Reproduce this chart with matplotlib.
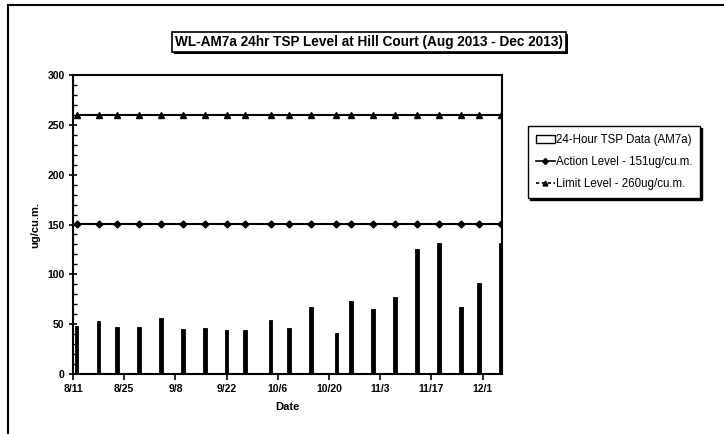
import datetime as dt

import matplotlib
matplotlib.use('Agg')
import matplotlib.pyplot as plt
import matplotlib.dates as mdates
from matplotlib.lines import Line2D
from matplotlib.patches import Patch
from matplotlib import patheffects as pe

plt.rcParams['font.family'] = ['Liberation Sans', 'DejaVu Sans']

# sampling dates (2013) and 24-hour TSP readings
sample_dates = ['8/12', '8/18', '8/23', '8/29', '9/4', '9/10', '9/16', '9/22',
                '9/27', '10/4', '10/9', '10/15', '10/22', '10/26', '11/1',
                '11/7', '11/13', '11/19', '11/25', '11/30', '12/6']
tsp = [48, 53, 47, 47, 56, 45, 46, 44, 44, 54, 46,
       67, 41, 73, 65, 77, 125, 131, 67, 91, 131]
action_level = 151
limit_level = 260

tick_dates = ['8/11', '8/25', '9/8', '9/22', '10/6', '10/20', '11/3', '11/17', '12/1']
y_ticks = [0, 50, 100, 150, 200, 250, 300]

title = 'WL-AM7a 24hr TSP Level at Hill Court (Aug 2013 - Dec 2013)'
labels = ['24-Hour TSP Data (AM7a)', 'Action Level - 151ug/cu.m.',
          'Limit Level - 260ug/cu.m.']


def to_date(s):
    m, d = s.split('/')
    return dt.datetime(2013, int(m), int(d))


x = [to_date(s) for s in sample_dates]
xt = [to_date(s) for s in tick_dates]

fig = plt.figure(figsize=(7.24, 4.34), dpi=100)
ax = fig.add_axes([73 / 724, 1 - 374 / 434, (502 - 73) / 724, (374 - 75) / 434])

ax.bar(x, tsp, width=1.0, color='black', edgecolor='black', linewidth=0.6, zorder=2)
ax.plot(x, [action_level] * len(x), color='black', lw=1.5, marker='D',
        markersize=3.5, zorder=3)
ax.plot(x, [limit_level] * len(x), color='black', lw=1.5, marker='^',
        markersize=4.2, zorder=3)

ax.set_ylim(0, 300)
ax.set_yticks(y_ticks)
ax.yaxis.set_minor_locator(plt.MultipleLocator(10))
ax.set_xlim(mdates.date2num(dt.datetime(2013, 8, 11)),
            mdates.date2num(dt.datetime(2013, 12, 6, 7)))
ax.set_xticks(xt)
ax.set_xticklabels(tick_dates)

for s in ax.spines.values():
    s.set_linewidth(1.5)
ax.tick_params(axis='both', which='major', labelsize=7.5, width=1.2, length=4,
               direction='out', pad=3)
ax.tick_params(axis='y', which='major', direction='inout', length=6)
ax.tick_params(axis='y', which='minor', direction='in', length=3, width=1)
for lab in ax.get_xticklabels() + ax.get_yticklabels():
    lab.set_fontweight('bold')

ax.set_ylabel('ug/cu.m.', fontsize=8, fontweight='bold', labelpad=5)
ax.set_xlabel('Date', fontsize=8, fontweight='bold', labelpad=6)

t = fig.text(369 / 724, 1 - 42 / 434, title, ha='center', va='center',
             fontsize=9.8, fontweight='bold',
             bbox=dict(boxstyle='square,pad=0.2', facecolor='white',
                       edgecolor='black', linewidth=1.2))
t.get_bbox_patch().set_path_effects([
    pe.SimplePatchShadow(offset=(1.5, -1.5), shadow_rgbFace='black', alpha=1),
    pe.Normal()])

handles = [
    Patch(facecolor='white', edgecolor='black', linewidth=1),
    Line2D([], [], color='black', lw=1.2, marker='D', markersize=3),
    Line2D([], [], color='black', lw=1.2, ls=(0, (2, 1.5)), marker='^', markersize=3.5),
]
leg = fig.legend(handles, labels, loc='upper left',
                 bbox_to_anchor=(528 / 724, 1 - 126 / 434),
                 bbox_transform=fig.transFigure, borderaxespad=0,
                 fontsize=8.3, frameon=True, fancybox=False,
                 shadow={'color': 'black', 'alpha': 1, 'ox': 1.5, 'oy': -1.5},
                 edgecolor='black', labelspacing=0.85, handlelength=1.6,
                 handletextpad=0.1, borderpad=0.7)
leg.get_frame().set_linewidth(1.0)

# page frame of the scanned sheet (left and top edges)
fig.add_artist(Line2D([8 / 724, 8 / 724], [0, 1 - 5 / 434],
                      transform=fig.transFigure, color='black', lw=1.5))
fig.add_artist(Line2D([8 / 724, 1], [1 - 5 / 434, 1 - 5 / 434],
                      transform=fig.transFigure, color='black', lw=1.5))

plt.savefig('out.png', dpi=100)
